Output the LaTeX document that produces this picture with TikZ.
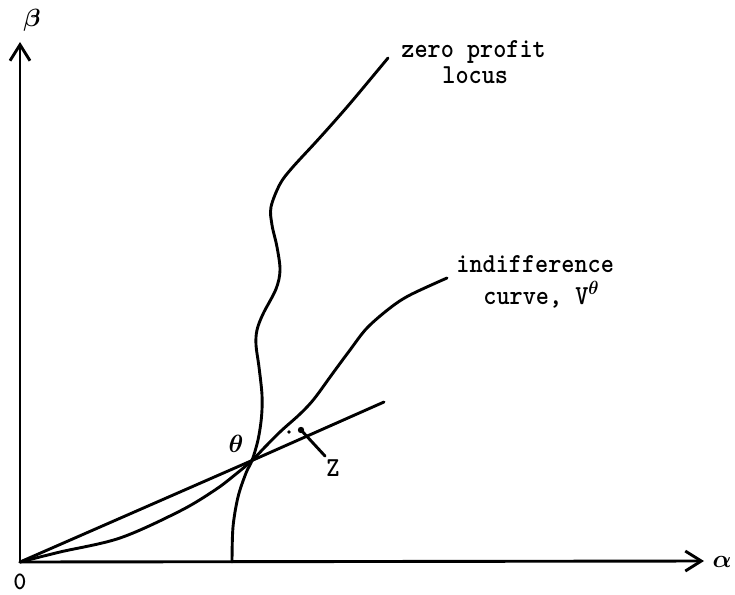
\documentclass[tikz,border=0pt]{standalone}
\usepackage{fontspec}
\usetikzlibrary{arrows.meta}
\newcommand{\tall}[1]{\scalebox{1}[1.1]{#1}}
\begin{document}
\begin{tikzpicture}[x=1pt,y=-1pt, line width=2.9pt, line cap=round, line join=round,
  lbl/.style={font=\fontsize{25}{28}\selectfont\ttfamily\bfseries\boldmath, inner sep=0pt},
  axisarrow/.style={-{Straight Barb[length=16pt,width=20pt,line width=2.9pt]}}]
\useasboundingbox (0,0) rectangle (735,594);
% key points
\coordinate (O) at (20,562);
\coordinate (ytip) at (20,42);
\coordinate (xtip) at (704,561);
\coordinate (th) at (252,460.5);
\coordinate (rayend) at (384,402);
\coordinate (zpbase) at (232,562);
\coordinate (zpend) at (388,58);
\coordinate (icend) at (447,278);
\coordinate (zdot) at (301,430);
\coordinate (zdotb) at (289,432);
\coordinate (zptr) at (325,456);
% axes
\draw[axisarrow] (O) -- (ytip);
\draw[axisarrow] (O) -- (xtip);
% ray through theta
\draw (O) -- (th) -- (rayend);
% zero profit locus
\draw plot[smooth, tension=0.55] coordinates {(zpbase) (233,527) (238,497) (246,473) (th) (258,440) (261.5,417) (262,395) (259,367) (256,345) (257,330) (263,314) (276,289) (280,270) (277,247) (272,225) (271,207) (280,184) (292,168) (315,143) (333,123) (353,100) (zpend)};
% indifference curve
\draw plot[smooth, tension=0.55] coordinates {(O) (60,552) (120,538) (180,511) (215,490) (236,474) (th) (265,447) (281,431) (300,414) (314,399) (333,373) (350,350) (367,328) (390,308) (410,295) (icend)};
% point Z
\fill (zdot) circle (3.2pt);
\fill (zdotb) circle (1.8pt);
\draw (zptr) -- (zdot);
% labels
\node[lbl] (beta) at (32,20) {$\beta$};
\node[lbl] (alpha) at (722,562) {$\alpha$};
\node[lbl] (zero) at (20,582) {0};
\node[lbl] (theta) at (236,444) {$\theta$};
\node[lbl] (zlab) at (333,468) {\tall{Z}};
\node[lbl, anchor=base west] (zp1) at (400,57) {\tall{zero profit}};
\node[lbl, anchor=base west] (zp2) at (441,83) {\tall{locus}};
\node[lbl, anchor=base west] (ic1) at (455,272) {\tall{indifference}};
\node[lbl, anchor=base west] (ic2) at (482,304) {\tall{curve, V$^{\theta}$}};
\end{tikzpicture}
\end{document}
